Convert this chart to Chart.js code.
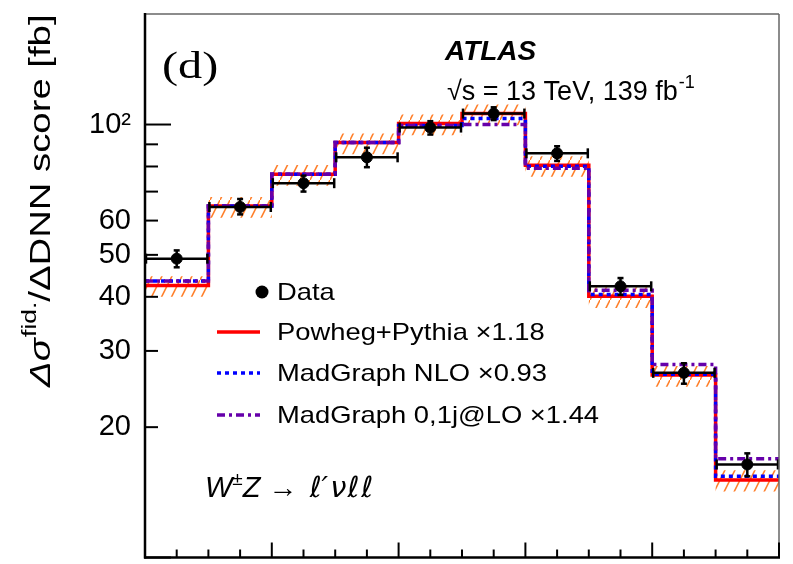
<!DOCTYPE html>
<html>
<head>
<meta charset="utf-8">
<script src="https://cdn.jsdelivr.net/npm/chart.js@4.4.1/dist/chart.umd.min.js"></script>
<style>
  html, body { margin: 0; padding: 0; background: #fff; }
  #wrap { width: 793px; height: 564px; position: relative; }
</style>
</head>
<body>
<div id="wrap"><canvas id="chart" width="793" height="564"></canvas></div>
<script>
// DNN score bins
const binEdges = [0, 0.1, 0.2, 0.3, 0.4, 0.5, 0.6, 0.7, 0.8, 0.9, 1.0];

// measured data [fb]
const dataValues = [49.0, 64.5, 73.2, 84.0, 98.4, 106.0, 85.8, 42.3, 26.7, 16.4];
const dataErrUp = [2.2, 2.8, 3.0, 4.4, 3.4, 3.6, 3.3, 1.9, 1.4, 1.0];
const dataErrDown = [2.2, 2.5, 3.2, 4.3, 3.6, 3.6, 3.4, 1.9, 1.5, 1.0];

// predictions
const powheg = [42.5, 64.8, 76.8, 90.9, 100.5, 106.0, 80.5, 40.1, 26.4, 15.1];
const powhegBandHi = [44.6, 68.0, 80.6, 95.4, 105.5, 111.3, 84.5, 42.1, 27.7, 15.9];
const powhegBandLo = [40.0, 60.9, 72.2, 85.4, 94.5, 99.6, 75.7, 37.7, 24.8, 14.2];
const mgNLO = [43.5, 64.8, 76.8, 90.9, 99.5, 103.2, 80.1, 40.5, 26.5, 15.4];
const mgLO = [43.5, 64.8, 76.8, 90.9, 99.5, 100.0, 79.3, 41.4, 27.9, 16.9];

// axes
const yTickValues = [10, 20, 30, 40, 50, 60, 70, 80, 90, 100];
const yTickLabels = { 20: '20', 30: '30', 40: '40', 50: '50', 60: '60', 100: '10²' };
const xTickValues = [0, 0.05, 0.1, 0.15, 0.2, 0.25, 0.3, 0.35, 0.4, 0.45, 0.5,
  0.55, 0.6, 0.65, 0.7, 0.75, 0.8, 0.85, 0.9, 0.95, 1.0];
const xMajorTicks = [0, 0.2, 0.4, 0.6, 0.8, 1.0];

const SANS = '"Liberation Sans", Arial, Helvetica, sans-serif';

function stepPoints(values) {
  const pts = values.map((v, i) => ({ x: binEdges[i], y: v }));
  pts.push({ x: binEdges[binEdges.length - 1], y: values[values.length - 1] });
  return pts;
}

function hatchPattern() {
  const c = document.createElement('canvas');
  c.width = 10; c.height = 20;
  const p = c.getContext('2d');
  p.strokeStyle = '#ff7f2a';
  p.lineWidth = 1.6;
  p.beginPath();
  p.moveTo(-1, 22); p.lineTo(11, -2);
  p.stroke();
  return document.getElementById('chart').getContext('2d').createPattern(c, 'repeat');
}

const centers = dataValues.map((_, i) => ({ x: (binEdges[i] + binEdges[i + 1]) / 2, y: dataValues[i] }));

function line(ctx, x1, y1, x2, y2) {
  ctx.beginPath(); ctx.moveTo(x1, y1); ctx.lineTo(x2, y2); ctx.stroke();
}

// draws a row of text pieces starting at x, allowing superscripts
function drawPieces(ctx, pieces, x, y) {
  let cx = x;
  pieces.forEach(p => {
    ctx.font = p.font;
    ctx.fillText(p.t, cx, y + (p.dy || 0));
    cx += ctx.measureText(p.t).width + (p.gap || 0);
  });
  return cx;
}

const errorBars = {
  id: 'errorBars',
  beforeDatasetDraw(chart, args) {
    if (args.index !== 0) return;
    const { ctx } = chart;
    const xs = chart.scales.x, ys = chart.scales.y;
    ctx.save();
    ctx.strokeStyle = '#000';
    ctx.lineWidth = 2.5;
    dataValues.forEach((v, i) => {
      const x0 = xs.getPixelForValue(binEdges[i]);
      const x1 = xs.getPixelForValue(binEdges[i + 1]);
      const xc = (x0 + x1) / 2;
      const yc = ys.getPixelForValue(v);
      const yt = ys.getPixelForValue(v + dataErrUp[i]);
      const yb = ys.getPixelForValue(v - dataErrDown[i]);
      line(ctx, x0 + 1, yc, x1 - 1, yc);
      line(ctx, x0 + 1, yc - 5, x0 + 1, yc + 5);
      line(ctx, x1 - 1, yc - 5, x1 - 1, yc + 5);
      line(ctx, xc, yt, xc, yb);
      line(ctx, xc - 3, yt, xc + 3, yt);
      line(ctx, xc - 3, yb, xc + 3, yb);
    });
    ctx.restore();
  }
};

const decorations = {
  id: 'decorations',
  afterDraw(chart) {
    const { ctx, chartArea: a } = chart;
    const xs = chart.scales.x, ys = chart.scales.y;
    ctx.save();

    // frame
    ctx.strokeStyle = '#666';
    ctx.lineWidth = 1.5;
    line(ctx, a.left, a.top, a.right, a.top);
    line(ctx, a.right, a.top, a.right, a.bottom);
    ctx.strokeStyle = '#000';
    ctx.lineWidth = 2.5;
    line(ctx, a.left, a.top - 1, a.left, a.bottom + 1);
    line(ctx, a.left - 1, a.bottom, a.right + 1, a.bottom);

    // inner ticks
    ctx.lineWidth = 2;
    yTickValues.forEach(v => {
      const py = ys.getPixelForValue(v);
      const len = (v === 100 || v === 10) ? 26 : 13;
      line(ctx, a.left, py, a.left + len, py);
    });
    xTickValues.forEach(v => {
      const px = xs.getPixelForValue(v);
      const len = xMajorTicks.includes(v) ? 15 : 8;
      line(ctx, px, a.bottom, px, a.bottom - len);
    });

    ctx.fillStyle = '#000';
    ctx.textBaseline = 'alphabetic';
    ctx.textAlign = 'left';

    // y axis title
    ctx.save();
    ctx.translate(50, 387);
    ctx.rotate(-Math.PI / 2);
    ctx.scale(1.32, 1);
    drawPieces(ctx, [
      { t: 'Δσ', font: 'italic 29px ' + SANS, gap: 1 },
      { t: 'fid.', font: '20px ' + SANS, dy: -14 },
      { t: '/ΔDNN score [fb]', font: '29px ' + SANS }
    ], 0, 0);
    ctx.restore();

    // panel label
    ctx.save();
    ctx.translate(162, 78);
    ctx.scale(1.27, 1);
    ctx.font = '38px "Liberation Serif", "Times New Roman", serif';
    ctx.fillText('(d)', 0, 0);
    ctx.restore();

    ctx.font = 'bold italic 28px ' + SANS;
    ctx.fillText('ATLAS', 445, 60);
    drawPieces(ctx, [
      { t: '√s = 13 TeV, 139 fb', font: '27px ' + SANS, gap: 1 },
      { t: '-1', font: '18px ' + SANS, dy: -12 }
    ], 447, 100);

    const ell = 'italic 29px "DejaVu Sans", ' + SANS;
    drawPieces(ctx, [
      { t: 'W', font: 'italic 29px ' + SANS },
      { t: '±', font: '19px ' + SANS, dy: -12 },
      { t: 'Z → ', font: 'italic 29px ' + SANS, gap: 4 },
      { t: 'ℓ′', font: ell, gap: 2 },
      { t: 'ν', font: ell, gap: 1 },
      { t: 'ℓ', font: ell, gap: 2 },
      { t: 'ℓ', font: ell }
    ], 205, 497);

    // legend
    ctx.beginPath();
    ctx.arc(262, 292, 6.5, 0, Math.PI * 2);
    ctx.fill();
    ctx.lineWidth = 3.5;
    ctx.strokeStyle = '#ff0000';
    line(ctx, 217, 332, 260, 332);
    ctx.strokeStyle = '#0000ff';
    ctx.setLineDash([4, 4]);
    line(ctx, 217, 373, 260, 373);
    ctx.strokeStyle = '#6600aa';
    ctx.setLineDash([8, 4, 3, 4]);
    line(ctx, 217, 415, 260, 415);
    ctx.setLineDash([]);

    const legendText = ['Data', 'Powheg+Pythia ×1.18', 'MadGraph NLO ×0.93', 'MadGraph 0,1j@LO ×1.44'];
    const legendY = [293, 333, 374, 416];
    ctx.textBaseline = 'middle';
    ctx.font = '24px ' + SANS;
    legendText.forEach((t, i) => {
      ctx.save();
      ctx.translate(277, legendY[i]);
      ctx.scale(1.14, 1);
      ctx.fillText(t, 0, 0);
      ctx.restore();
    });

    ctx.restore();
  }
};

new Chart(document.getElementById('chart'), {
  type: 'scatter',
  data: {
    datasets: [
      {
        label: 'Data',
        data: centers,
        backgroundColor: '#000',
        borderColor: '#000',
        pointRadius: 5.5,
        pointHoverRadius: 5.5,
        order: 0
      },
      {
        label: 'MadGraph 0,1j@LO ×1.44',
        data: stepPoints(mgLO),
        showLine: true, stepped: true, pointRadius: 0,
        borderColor: '#6600aa', borderWidth: 3.5, borderDash: [8, 4, 3, 4],
        order: 1
      },
      {
        label: 'MadGraph NLO ×0.93',
        data: stepPoints(mgNLO),
        showLine: true, stepped: true, pointRadius: 0,
        borderColor: '#0000ff', borderWidth: 3.5, borderDash: [4, 4],
        order: 2
      },
      {
        label: 'Powheg+Pythia ×1.18',
        data: stepPoints(powheg),
        showLine: true, stepped: true, pointRadius: 0,
        borderColor: '#ff0000', borderWidth: 3.5,
        order: 3
      },
      {
        label: 'band hi',
        data: stepPoints(powhegBandHi),
        showLine: true, stepped: true, pointRadius: 0,
        borderWidth: 0, borderColor: 'rgba(0,0,0,0)',
        order: 4
      },
      {
        label: 'band lo',
        data: stepPoints(powhegBandLo),
        showLine: true, stepped: true, pointRadius: 0,
        borderWidth: 0, borderColor: 'rgba(0,0,0,0)',
        backgroundColor: hatchPattern(),
        fill: '-1',
        order: 5
      }
    ]
  },
  options: {
    responsive: false,
    animation: false,
    devicePixelRatio: 1,
    layout: { padding: { left: 0, top: 14, right: 14, bottom: 1 } },
    plugins: { legend: { display: false }, tooltip: { enabled: false } },
    scales: {
      x: {
        type: 'linear',
        min: 0, max: 1,
        grid: { display: false, drawTicks: false },
        border: { display: false },
        ticks: { display: false },
        afterFit: s => { s.height = 0; s.paddingLeft = 0; s.paddingRight = 0; }
      },
      y: {
        type: 'logarithmic',
        min: 10, max: 180,
        grid: { display: false, drawTicks: false },
        border: { display: false },
        afterBuildTicks: s => { s.ticks = yTickValues.map(v => ({ value: v })); },
        afterFit: s => { s.width = 145; s.paddingTop = 0; s.paddingBottom = 0; },
        ticks: {
          autoSkip: false,
          padding: 14,
          color: '#000',
          font: { family: 'Liberation Sans', size: 29 },
          callback: v => yTickLabels[v] || ''
        }
      }
    }
  },
  plugins: [errorBars, decorations]
});
</script>
</body>
</html>
